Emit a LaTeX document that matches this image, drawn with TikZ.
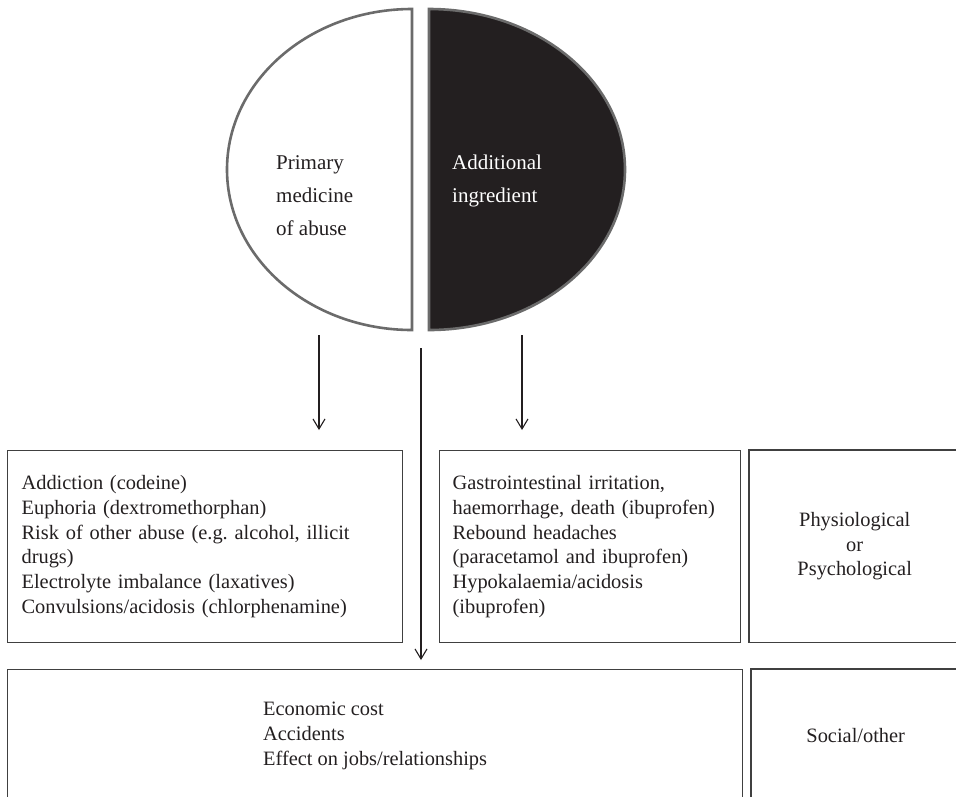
\documentclass[tikz,border=0pt]{standalone}
\usepackage{fontspec}
\setmainfont{Liberation Serif}
\usetikzlibrary{arrows.meta,calc}
\definecolor{rim}{HTML}{6B6B6B}
\definecolor{ink}{HTML}{231F20}

\begin{document}
\begin{tikzpicture}[x=1pt,y=-1pt,
  half/.style={draw=rim,line width=2.6pt},
  halftext/.style={anchor=north west,inner sep=0pt,align=left,font=\fontsize{21}{33}\selectfont},
  box/.style={anchor=north west,inner xsep=0pt,text=ink,font=\fontsize{20.4}{24.8}\selectfont},
  boxline/.style={draw=black!75,line width=1.2pt},
  arr/.style={draw=ink,line width=1.1pt,-{Straight Barb[length=10pt,width=12pt]}}]
\path[use as bounding box,clip](0,0)rectangle(956,796);
\draw[half,fill=white](412,9)--(412,330)arc[start angle=270,end angle=90,x radius=185pt,y radius=160.5pt]--cycle;
\draw[half,fill=ink](429,9)arc[start angle=90,end angle=-90,x radius=196pt,y radius=160.5pt]--cycle;
\node[halftext,text=ink](prim)at(276,155){Primary\\medicine\\of abuse};
\node[halftext,text=white](addi)at(452,155){Additional\\ingredient};
\node[box,boxline,minimum width=395pt,minimum height=192pt,text width=367pt,align=left](primfx)at(7,450)
  {Addiction (codeine)\\Euphoria (dextromethorphan)\\Risk of other abuse (e.g.\ alcohol, illicit\\drugs)\\Electrolyte imbalance (laxatives)\\Convulsions/acidosis (chlorphenamine)};
\node[box,boxline,minimum width=301pt,minimum height=192pt,text width=275pt,align=left](addfx)at(439,450)
  {Gastrointestinal irritation,\\haemorrhage, death (ibuprofen)\\Rebound headaches\\(paracetamol and ibuprofen)\\Hypokalaemia/acidosis\\(ibuprofen)};
\node[box,minimum width=211pt,minimum height=192pt,align=center](physio)at(749,450){Physiological\\or\\Psychological};
\node[box,boxline,minimum width=735pt,minimum height=133pt,align=left](socfx)at(7,669){Economic cost\\Accidents\\Effect on jobs/relationships};
\node[box,minimum width=209pt,minimum height=133pt](social)at(751,669){Social/other};
\draw[boxline]([xshift=40pt]physio.north east)--(physio.north west)--(physio.south west)--([xshift=40pt]physio.south east);
\draw[boxline]([xshift=40pt]social.north east)--(social.north west)--(social.south west)--([xshift=40pt]social.south east);
\coordinate(la)at(319,335);
\coordinate(ra)at(522,335);
\coordinate(ma)at(421,348);
\draw[arr](la)--([yshift=20pt]la|-primfx.north);
\draw[arr](ra)--([yshift=20pt]ra|-addfx.north);
\draw[arr](ma)--([yshift=9pt]ma|-socfx.north);
\end{tikzpicture}
\end{document}
